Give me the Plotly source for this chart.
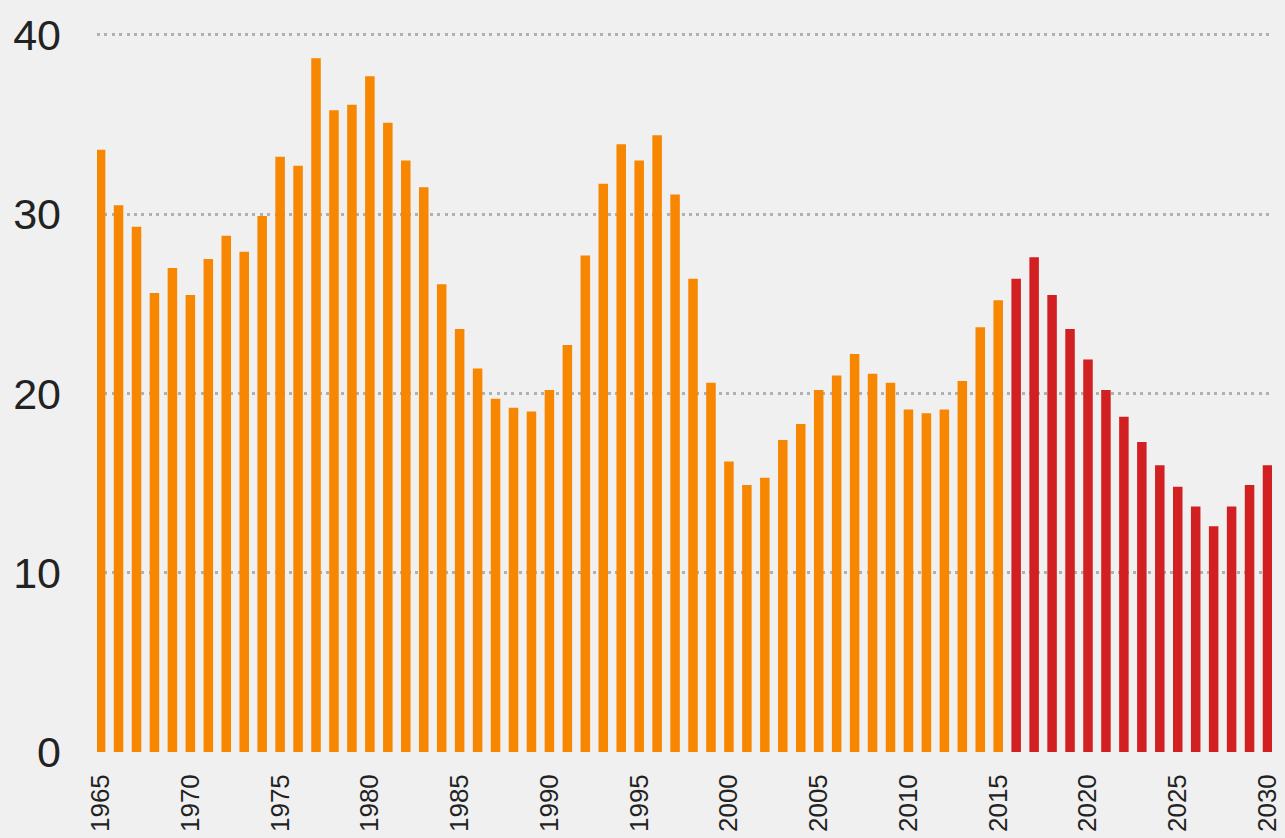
import plotly.graph_objects as go

hist_years = list(range(1965, 2016))
hist_values = [33.6, 30.5, 29.3, 25.6, 27.0, 25.5, 27.5, 28.8, 27.9, 29.9,
               33.2, 32.7, 38.7, 35.8, 36.1, 37.7, 35.1, 33.0, 31.5, 26.1,
               23.6, 21.4, 19.7, 19.2, 19.0, 20.2, 22.7, 27.7, 31.7, 33.9,
               33.0, 34.4, 31.1, 26.4, 20.6, 16.2, 14.9, 15.3, 17.4, 18.3,
               20.2, 21.0, 22.2, 21.1, 20.6, 19.1, 18.9, 19.1, 20.7, 23.7,
               25.2]
fc_years = list(range(2016, 2031))
fc_values = [26.4, 27.6, 25.5, 23.6, 21.9, 20.2, 18.7, 17.3, 16.0, 14.8,
             13.7, 12.6, 13.7, 14.9, 16.0]
tick_years = list(range(1965, 2031, 5))
y_ticks = [0, 10, 20, 30, 40]

fig = go.Figure()
fig.add_trace(go.Bar(x=hist_years, y=hist_values, marker_color="#f78600",
                     marker_line_width=0, width=0.53, name="Historical"))
fig.add_trace(go.Bar(x=fc_years, y=fc_values, marker_color="#d22022",
                     marker_line_width=0, width=0.53, name="Forecast"))

fig.update_layout(
    width=1285, height=838,
    paper_bgcolor="#f0f0f0", plot_bgcolor="#f0f0f0",
    margin=dict(l=97, r=13, t=26, b=86),
    showlegend=False, barmode="overlay",
    font=dict(family="Liberation Sans, Arial, sans-serif", color="#222"),
)
fig.update_xaxes(
    range=[1964.8, 2030.25], tickmode="array", tickvals=tick_years,
    ticktext=[str(y) for y in tick_years], tickangle=-90,
    tickfont=dict(size=26, color="#222"),
    showgrid=False, zeroline=False, showline=False, ticks="",
    ticklabelstandoff=16, automargin=False,
)
fig.update_yaxes(
    range=[0, 40.5], tickmode="array", tickvals=y_ticks,
    tickfont=dict(size=43, color="#222"), showgrid=True,
    gridcolor="#b0b0b0", griddash="3px,4.4px", gridwidth=2.6,
    zeroline=False, showline=False, ticks="", ticklabelstandoff=35,
    automargin=False,
)
fig.write_html(
    "out.html",
    config={"displayModeBar": False},
    post_script="document.body.style.margin='0';document.body.style.background='#f0f0f0';",
)
